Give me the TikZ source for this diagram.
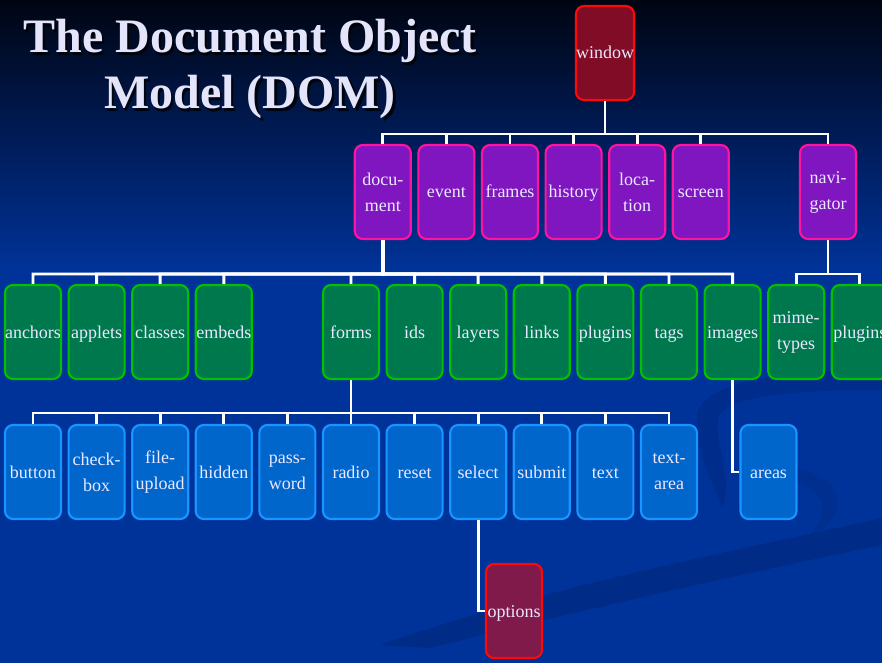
\documentclass[tikz,border=0pt]{standalone}
\usepackage{fontspec}
\setmainfont{Liberation Serif}
\definecolor{bgA}{HTML}{000512}
\definecolor{bgB}{HTML}{001B55}
\definecolor{bgC}{HTML}{003399}
\definecolor{swoosh}{HTML}{00267A}
\definecolor{winfill}{HTML}{800C26}
\definecolor{optfill}{HTML}{7F1A4A}
\definecolor{redline}{HTML}{FF0808}
\definecolor{purfill}{HTML}{7F16BF}
\definecolor{purline}{HTML}{FF14A0}
\definecolor{grnfill}{HTML}{00784E}
\definecolor{grnline}{HTML}{00C000}
\definecolor{blufill}{HTML}{0066CC}
\definecolor{bluline}{HTML}{1A94FF}
\definecolor{labeltext}{HTML}{ECE8FF}
\definecolor{titletext}{HTML}{E4E4FA}
\definecolor{titleshadow}{HTML}{000000}
\tikzset{
  obj/.style={rounded corners=6pt, line width=1.6pt, minimum width=42pt,
    minimum height=70.5pt, inner sep=0pt, align=center, text=labeltext,
    font=\fontsize{13.5}{19.5}\selectfont, text height=9pt, text depth=0pt},
  twoline/.style={text height={}, text depth={}},
  winbox/.style={obj, draw=redline, fill=winfill},
  optbox/.style={obj, draw=redline, fill=optfill},
  purbox/.style={obj, draw=purline, fill=purfill},
  grnbox/.style={obj, draw=grnline, fill=grnfill},
  blubox/.style={obj, draw=bluline, fill=blufill},
  conn/.style={draw=white, line width=2.2pt, line join=miter},
  titlestyle/.style={font=\bfseries\fontsize{36}{42}\selectfont, anchor=base}
}
\begin{document}
\begin{tikzpicture}[x=0.75pt, y=-0.75pt]
\useasboundingbox (0,0) rectangle (882,663);
% background
\fill[bgC] (0,0) rectangle (882,663);
\shade[top color=bgA, bottom color=bgC, middle color=bgB] (0,0) rectangle (882,270);
\fill[swoosh, opacity=0.55] (380,645) .. controls (550,585) and (750,548) .. (882,518)
   -- (882,545) .. controls (750,572) and (560,615) .. (430,648) -- cycle;
\fill[swoosh, opacity=0.4] (697,415) .. controls (700,380) and (800,368) .. (882,370)
   -- (882,390) .. controls (800,390) and (722,395) .. (718,420)
   .. controls (714,445) and (735,475) .. (722,508)
   .. controls (712,480) and (694,450) .. (697,415) -- cycle;
\fill[swoosh, opacity=0.3] (795,468) .. controls (845,478) and (855,515) .. (805,540)
   .. controls (832,515) and (828,490) .. (790,480) -- cycle;
% title
\node[titlestyle, text=titleshadow, opacity=0.8] (titleshadow1) at (252.5,55.5) {The Document Object};
\node[titlestyle, text=titleshadow, opacity=0.8] (titleshadow2) at (252.5,111.5) {Model (DOM)};
\node[titlestyle, text=titletext] (title1) at (250,53) {The Document Object};
\node[titlestyle, text=titletext] (title2) at (250,109) {Model (DOM)};
% bus coordinates
\coordinate (b1) at (605,134);
\coordinate (b2) at (383,274);
\coordinate (b2n) at (828,274);
\coordinate (b3) at (351,413);
% level 1
\node[winbox] (window) at (605,53) {window};
% level 2
\node[purbox, twoline] (document) at (382.8,192) {docu-\\ment};
\node[purbox] (event) at (446.4,192) {event};
\node[purbox] (frames) at (510,192) {frames};
\node[purbox] (history) at (573.6,192) {history};
\node[purbox, twoline] (location) at (637.2,192) {loca-\\tion};
\node[purbox] (screen) at (700.8,192) {screen};
\node[purbox, twoline] (navigator) at (828,192) {navi-\\gator};
% level 3
\node[grnbox] (anchors) at (33,332) {anchors};
\node[grnbox] (applets) at (96.6,332) {applets};
\node[grnbox] (classes) at (160.2,332) {classes};
\node[grnbox] (embeds) at (223.8,332) {embeds};
\node[grnbox] (forms) at (351,332) {forms};
\node[grnbox] (ids) at (414.6,332) {ids};
\node[grnbox] (layers) at (478.2,332) {layers};
\node[grnbox] (links) at (541.8,332) {links};
\node[grnbox] (plugins) at (605.4,332) {plugins};
\node[grnbox] (tags) at (669,332) {tags};
\node[grnbox] (images) at (732.6,332) {images};
\node[grnbox, twoline] (mimetypes) at (796.2,332) {mime-\\types};
\node[grnbox] (navplugins) at (859.8,332) {plugins};
% level 4
\node[blubox] (button) at (33,472) {button};
\node[blubox, twoline] (checkbox) at (96.6,472) {check-\\box};
\node[blubox, twoline] (fileupload) at (160.2,472) {file-\\upload};
\node[blubox] (hidden) at (223.8,472) {hidden};
\node[blubox, twoline] (password) at (287.4,472) {pass-\\word};
\node[blubox] (radio) at (351,472) {radio};
\node[blubox] (reset) at (414.6,472) {reset};
\node[blubox] (select) at (478.2,472) {select};
\node[blubox] (submit) at (541.8,472) {submit};
\node[blubox] (text) at (605.4,472) {text};
\node[blubox, twoline] (textarea) at (669,472) {text-\\area};
\node[blubox] (areas) at (768.5,472) {areas};
% level 5
\node[optbox] (options) at (514,611) {options};
% connectors
\foreach \c in {document,event,frames,history,location,screen,navigator}
  \draw[conn] (window.south) -- (b1) -| (\c.north);
\foreach \c in {anchors,applets,classes,embeds,forms,ids,layers,links,plugins,tags,images}
  \draw[conn] (document.south) -- (b2) -| (\c.north);
\foreach \c in {mimetypes,navplugins}
  \draw[conn] (navigator.south) -- (b2n) -| (\c.north);
\foreach \c in {button,checkbox,fileupload,hidden,password,radio,reset,select,submit,text,textarea}
  \draw[conn] (forms.south) -- (b3) -| (\c.north);
\draw[conn] (images.south) |- (areas.west);
\draw[conn] (select.south) |- (options.west);
\end{tikzpicture}
\end{document}
